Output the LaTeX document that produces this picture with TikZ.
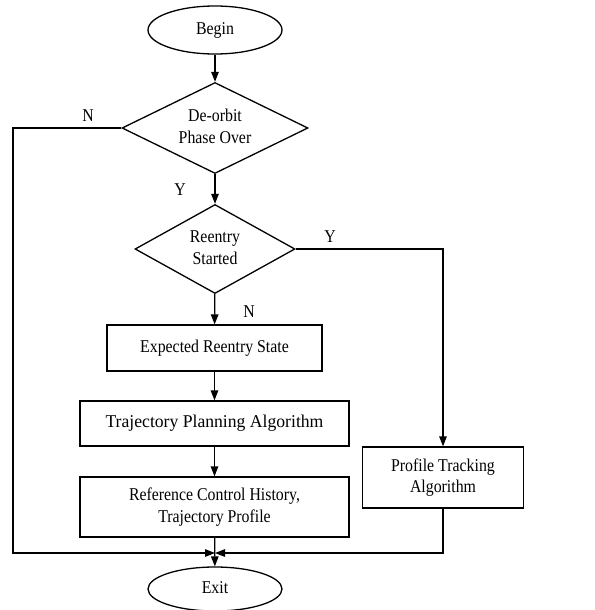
\documentclass[tikz,border=0pt]{standalone}
\usepackage{fontspec}
\usepackage{graphicx}
\setmainfont{Liberation Serif}
\usetikzlibrary{shapes.geometric,arrows.meta}
\newcommand\sqtext[2][0.88]{\scalebox{#1}[1]{\begin{tabular}{@{}c@{}}#2\end{tabular}}}
\begin{document}
\begin{tikzpicture}[x=1pt,y=1pt,
  every node/.style={font=\fontsize{18}{21.5}\selectfont, align=center, inner sep=0pt},
  term/.style={draw, ellipse, line width=1.3pt, minimum width=134pt, minimum height=48pt},
  decide/.style={draw, diamond, line width=1.3pt},
  proc/.style={draw, rectangle, line width=1.3pt},
  conn/.style={line width=1.3pt},
  arr/.style={line width=1.3pt, -{Triangle[length=10pt,width=7.5pt]}}
]
\renewcommand\arraystretch{1}
\useasboundingbox (0,0) rectangle (594,-610);
\node[term] (begin) at (215,-30) {\sqtext{Begin}};
\node[decide, shape aspect=2.04, minimum width=186pt, minimum height=91pt] (d1) at (215,-128) {\sqtext{De-orbit\\Phase Over}};
\node[decide, shape aspect=1.8, minimum width=160pt, minimum height=89pt] (d2) at (215,-249) {\sqtext{Reentry\\Started}};
\node[proc, minimum width=215pt, minimum height=46pt] (ers) at (214.5,-348) {\sqtext{Expected Reentry State}};
\node[proc, minimum width=269pt, minimum height=45pt] (tpa) at (214.5,-423.5) {\sqtext[0.98]{Trajectory Planning Algorithm}};
\node[proc, minimum width=269pt, minimum height=60pt] (rch) at (214.5,-507) {\sqtext{Reference Control History,\\Trajectory Profile}};
\node[proc, minimum width=161pt, minimum height=61pt] (pta) at (443,-477.5) {\sqtext{Profile Tracking\\Algorithm}};
\node[term, minimum height=44pt] (exit) at (215,-589) {\sqtext{Exit}};
\coordinate (j) at (215,-553);
\coordinate (lc) at (13,-128);
\coordinate (rc) at (443,-249);

\draw[arr] (begin) -- (d1);
\draw[arr] (d1) -- (d2);
\draw[arr] (d2) -- (ers);
\draw[arr] (ers) -- (tpa);
\draw[arr] (tpa) -- (rch);
\draw[arr] (rch) -- (exit);
\draw[arr] (d1.west) -- (lc) -- (lc |- j) -- (j);
\draw[arr] (d2.east) -- (rc) -- (pta.north);
\draw[arr] (pta.south) -- (pta.south |- j) -- (j);

\node (ln) at (88,-117) {\sqtext{N}};
\node (ly) at (180,-191) {\sqtext{Y}};
\node (ly2) at (330,-238) {\sqtext{Y}};
\node (ln2) at (249,-313) {\sqtext{N}};
\end{tikzpicture}
\end{document}
